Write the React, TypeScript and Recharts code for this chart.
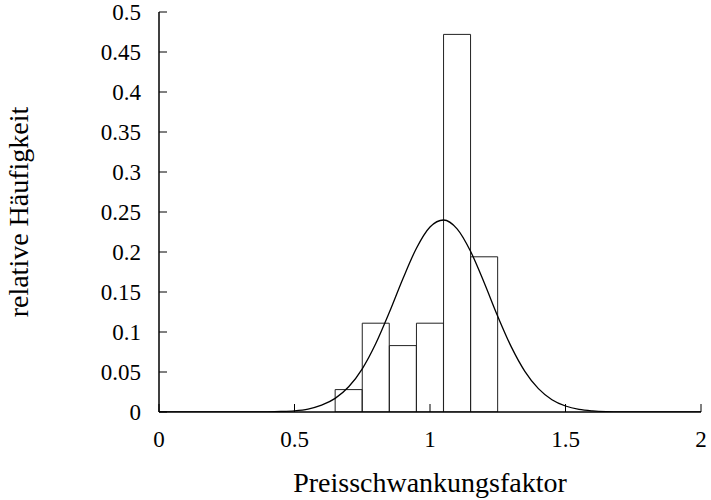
import React from "react";
import {
  Bar,
  ComposedChart,
  Line,
  XAxis,
  YAxis,
} from "recharts";

// histogram: bin centres (width 0.1) and relative frequencies
const binCenters = [0.7, 0.8, 0.9, 1.0, 1.1, 1.2];
const binFreq = [0.028, 0.111, 0.083, 0.111, 0.472, 0.194];

// fitted normal curve
const curveX = [
  0, 0.3, 0.4, 0.45, 0.5, 0.55, 0.6, 0.65, 0.7, 0.75, 0.8, 0.85, 0.9, 0.95,
  1.0, 1.05, 1.1, 1.15, 1.2, 1.25, 1.3, 1.35, 1.4, 1.45, 1.5, 1.55, 1.6, 1.65,
  1.7, 1.8, 2,
];
const curveY = [
  0, 0, 0.0002, 0.0006, 0.0015, 0.0037, 0.0085, 0.017, 0.0315, 0.054, 0.0856,
  0.1246, 0.1666, 0.2047, 0.2312, 0.24, 0.2289, 0.2006, 0.1616, 0.1196,
  0.0814, 0.0509, 0.0292, 0.0154, 0.0075, 0.0033, 0.0014, 0.0005, 0.0002, 0, 0,
];

const xTicks = [0, 0.5, 1, 1.5, 2];
const yTicks = [0, 0.05, 0.1, 0.15, 0.2, 0.25, 0.3, 0.35, 0.4, 0.45, 0.5];

const histData = binCenters.map((x, i) => ({ x, freq: binFreq[i] }));
const curveData = curveX.map((x, i) => ({ x, y: curveY[i] }));

const FONT = "'Liberation Serif', 'Times New Roman', serif";
const TICK_LEN = 8;

const XTick = (props: any) => {
  const { x, y, payload } = props;
  return (
    <g>
      <line x1={x} x2={x} y1={y} y2={y - TICK_LEN} stroke="#000" strokeWidth={1} />
      <text x={x} y={y + 35} textAnchor="middle" fontFamily={FONT} fontSize={23} fill="#000">
        {payload.value}
      </text>
    </g>
  );
};

const YTick = (props: any) => {
  const { x, y, payload } = props;
  return (
    <g>
      <line x1={x} x2={x + TICK_LEN} y1={y} y2={y} stroke="#000" strokeWidth={1} />
      <text x={x - 18} y={y} dy="0.35em" textAnchor="end" fontFamily={FONT} fontSize={23} fill="#000">
        {payload.value}
      </text>
    </g>
  );
};

const XTitle = (props: any) => {
  const { viewBox } = props;
  const cx = viewBox.x + viewBox.width / 2;
  return (
    <text x={cx} y={viewBox.y + 80} textAnchor="middle" fontFamily={FONT} fontSize={28} fill="#000">
      Preisschwankungsfaktor
    </text>
  );
};

const YTitle = (props: any) => {
  const { viewBox } = props;
  const cx = 28;
  const cy = viewBox.y + viewBox.height / 2;
  return (
    <text
      x={cx}
      y={cy}
      transform={`rotate(-90, ${cx}, ${cy})`}
      textAnchor="middle"
      fontFamily={FONT}
      fontSize={28}
      fill="#000"
    >
      relative Häufigkeit
    </text>
  );
};

export default function App() {
  return (
    <div style={{ position: "absolute", left: 0, top: 0, background: "#fff" }}>
      <ComposedChart
        width={711}
        height={500}
        data={histData}
        margin={{ top: 12, right: 10, bottom: 0, left: 0 }}
        barCategoryGap={0}
      >
        <XAxis
          dataKey="x"
          type="number"
          domain={[0, 2]}
          ticks={xTicks}
          height={88}
          tickSize={0}
          tickMargin={0}
          tick={<XTick />}
          axisLine={{ stroke: "#000", strokeWidth: 1.5 }}
          allowDataOverflow
          label={<XTitle />}
        />
        <XAxis
          xAxisId="curve"
          dataKey="x"
          type="number"
          orientation="top"
          domain={[0, 2]}
          height={0}
          tick={false}
          tickLine={false}
          axisLine={{ stroke: "#000", strokeWidth: 1.5 }}
          allowDataOverflow
        />
        <YAxis
          type="number"
          domain={[0, 0.5]}
          ticks={yTicks}
          width={159}
          tickSize={0}
          tickMargin={0}
          tick={<YTick />}
          axisLine={{ stroke: "#000", strokeWidth: 1.5 }}
          allowDataOverflow
          label={<YTitle />}
        />
        <YAxis
          yAxisId="right"
          orientation="right"
          type="number"
          domain={[0, 0.5]}
          width={0}
          tick={false}
          tickLine={false}
          axisLine={{ stroke: "#000", strokeWidth: 1.5 }}
        />
        <Bar
          dataKey="freq"
          fill="none"
          stroke="#222"
          strokeWidth={1}
          isAnimationActive={false}
        />
        <Line
          xAxisId="curve"
          data={curveData}
          dataKey="y"
          type="monotone"
          stroke="#000"
          strokeWidth={1.3}
          dot={false}
          activeDot={false}
          isAnimationActive={false}
        />
      </ComposedChart>
    </div>
  );
}
